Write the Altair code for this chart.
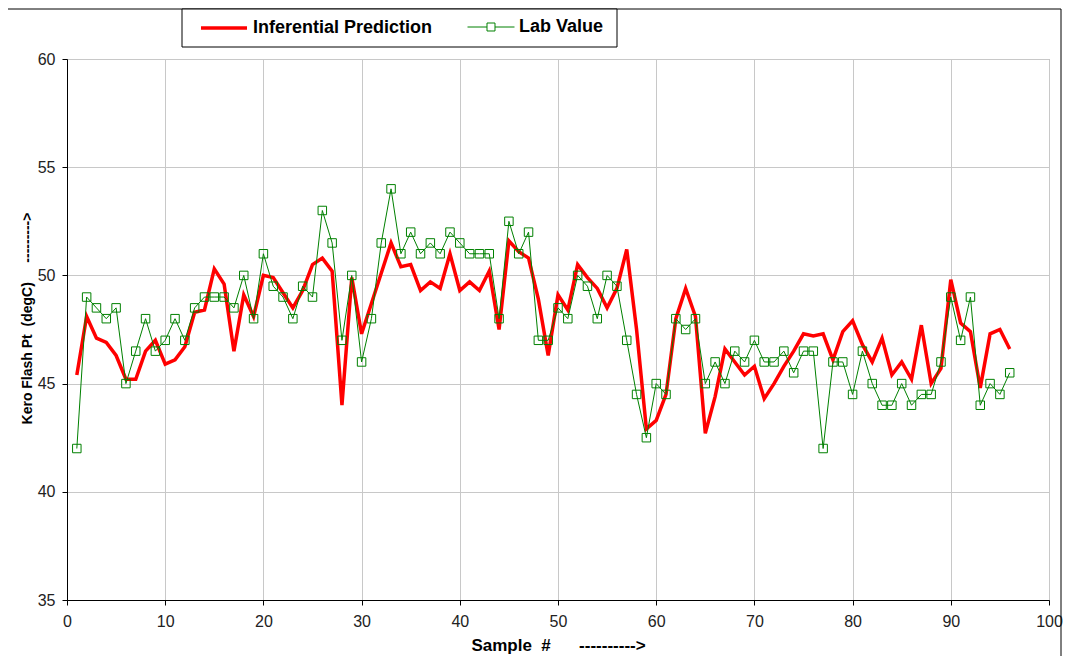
import altair as alt
import pandas as pd

samples = list(range(1, 97))
lab_value = [42, 49, 48.5, 48, 48.5, 45, 46.5, 48, 46.5, 47,
             48, 47, 48.5, 49, 49, 49, 48.5, 50, 48, 51,
             49.5, 49, 48, 49.5, 49, 53, 51.5, 47, 50, 46,
             48, 51.5, 54, 51, 52, 51, 51.5, 51, 52, 51.5,
             51, 51, 51, 48, 52.5, 51, 52, 47, 47, 48.5,
             48, 50, 49.5, 48, 50, 49.5, 47, 44.5, 42.5, 45,
             44.5, 48, 47.5, 48, 45, 46, 45, 46.5, 46, 47,
             46, 46, 46.5, 45.5, 46.5, 46.5, 42, 46, 46, 44.5,
             46.5, 45, 44, 44, 45, 44, 44.5, 44.5, 46, 49,
             47, 49, 44, 45, 44.5, 45.5]
prediction = [45.4, 48.1, 47.1, 46.9, 46.3, 45.2, 45.2, 46.5, 47.0, 45.9,
              46.1, 46.7, 48.3, 48.4, 50.3, 49.6, 46.5, 49.1, 48.1, 50.0,
              49.9, 49.2, 48.5, 49.3, 50.5, 50.8, 50.2, 44.0, 49.9, 47.3,
              48.7, 50.1, 51.5, 50.4, 50.5, 49.3, 49.7, 49.4, 51.0, 49.3,
              49.7, 49.3, 50.2, 47.5, 51.6, 51.1, 50.8, 48.9, 46.3, 49.1,
              48.4, 50.5, 49.9, 49.4, 48.5, 49.4, 51.2, 47.5, 42.9, 43.3,
              44.5, 48.0, 49.4, 48.1, 42.7, 44.4, 46.6, 46.0, 45.4, 45.8,
              44.3, 45.0, 45.8, 46.5, 47.3, 47.2, 47.3, 46.1, 47.4, 47.9,
              46.8, 46.0, 47.1, 45.4, 46.0, 45.2, 47.7, 45.0, 45.7, 49.8,
              47.8, 47.4, 44.8, 47.3, 47.5, 46.6]
x_ticks = [0, 10, 20, 30, 40, 50, 60, 70, 80, 90, 100]
y_ticks = [35, 40, 45, 50, 55, 60]
series_names = ["Inferential Prediction", "Lab Value"]
series_colors = ["#ff0000", "#008000"]

pred_df = pd.DataFrame({"sample": samples, "value": prediction, "series": series_names[0]})
lab_df = pd.DataFrame({"sample": samples, "value": lab_value, "series": series_names[1]})
one_row = pd.DataFrame({"k": [0]})

FONT = "Liberation Sans"
NB = "\u00a0"

x_title = "Sample" + NB + NB + "#" + NB * 6 + "---------->"
y_title = "Kero Flash Pt" + NB + NB + "(degC)" + NB * 5 + "--------->"

x_enc = alt.X(
    "sample:Q",
    scale=alt.Scale(domain=[0, 100], nice=False),
    axis=alt.Axis(values=x_ticks, title=x_title, labelFlush=False, labelOverlap=False,
                  labelPadding=8, titleFontSize=17, titleX=491, titleY=45,
                  titleAlign="center", titleBaseline="middle"),
)
y_enc = alt.Y(
    "value:Q",
    scale=alt.Scale(domain=[35, 60], nice=False, zero=False),
    axis=alt.Axis(values=y_ticks, title=y_title, labelPadding=7, labelOverlap=False,
                  titleFontSize=14, titleX=-40, titleY=259,
                  titleAlign="center", titleBaseline="middle"),
)

legend_common = dict(title=None, orient="none", padding=0, labelFont=FONT, labelFontSize=18,
                     labelFontWeight="bold", labelColor="black", labelOffset=4, labelLimit=400)

frame = alt.Chart(one_row).mark_rect(fill="white", fillOpacity=0, stroke="black", strokeWidth=1).encode(
    x=alt.value(-60), x2=alt.value(994), y=alt.value(-50), y2=alt.value(640)
)
legend_box = alt.Chart(one_row).mark_rect(fill="white", stroke="black", strokeWidth=1).encode(
    x=alt.value(115), x2=alt.value(550), y=alt.value(-50), y2=alt.value(-12)
)

red = alt.Chart(pred_df).mark_line(strokeWidth=3.5).encode(
    x=x_enc, y=y_enc,
    color=alt.Color("series:N",
                    scale=alt.Scale(domain=[series_names[0]], range=[series_colors[0]]),
                    legend=alt.Legend(legendX=132, legendY=-56, symbolType="stroke",
                                      symbolSize=2116, symbolStrokeWidth=3.5, **legend_common)),
)
sq_path = "M-1,0H-0.17M0.17,0H1M-0.17,-0.17H0.17V0.17H-0.17Z"
green_line = alt.Chart(lab_df).mark_line(strokeWidth=1).encode(
    x=alt.X("sample:Q"), y=alt.Y("value:Q"),
    color=alt.Color("series:N",
                    scale=alt.Scale(domain=[series_names[1]], range=[series_colors[1]]),
                    legend=alt.Legend(legendX=400, legendY=-56, symbolType=sq_path,
                                      symbolSize=2209, symbolStrokeWidth=1, **legend_common)),
)
green_pts = alt.Chart(lab_df).mark_point(shape="square", size=72, filled=False, strokeWidth=1,
                                         color=series_colors[1], opacity=1).encode(
    x=alt.X("sample:Q"), y=alt.Y("value:Q"),
)

chart = alt.layer(frame, legend_box, red, green_line, green_pts).resolve_scale(
    color="independent"
).resolve_legend(color="independent").properties(
    width=982, height=541,
    autosize=alt.AutoSizeParams(type="none"),
    padding={"left": 59, "top": 51, "right": 15, "bottom": 56},
).configure_view(
    stroke="#a0a0a0", strokeWidth=1
).configure_axis(
    grid=True, gridColor="#c8c8c8", gridWidth=1,
    domainColor="black", domainWidth=1, tickColor="black", tickSize=5, tickWidth=1,
    labelFont=FONT, labelFontSize=16, labelColor="#222",
    titleFont=FONT, titleFontWeight="bold", titleColor="black",
)

chart.save("out.html", embed_options={"renderer": "svg", "actions": False})
